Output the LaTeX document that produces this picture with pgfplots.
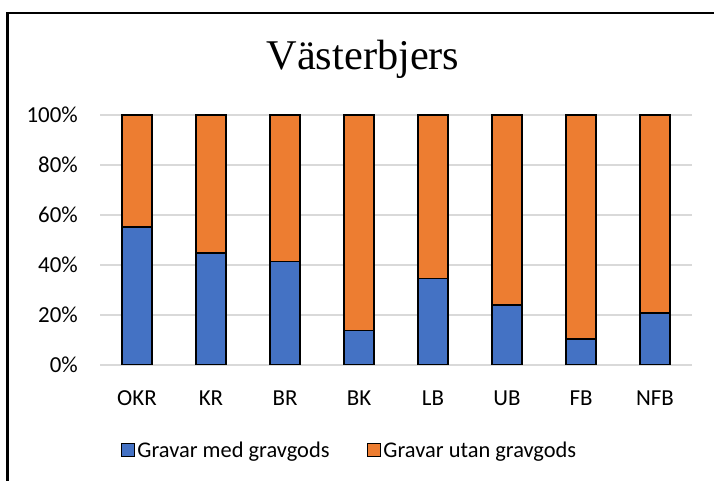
\documentclass[border=0pt]{standalone}
\usepackage{fontspec}
\setmainfont{Carlito}
\newfontfamily\titlefont{Liberation Serif}
\usepackage{pgfplots}
\pgfplotsset{compat=1.18}
\definecolor{cblue}{HTML}{4472C4}
\definecolor{corange}{HTML}{ED7D31}
\definecolor{cgrid}{HTML}{D9D9D9}
\begin{document}
\begin{tikzpicture}[x=1bp,y=1bp]
\path[use as bounding box] (0,0) rectangle (714,481);
\draw[line width=2.2bp] (7.5,0) -- (7.5,468) -- (714,468);
\node[font=\titlefont\fontsize{42.5}{50}\selectfont, anchor=base, inner sep=0pt] at (363,411) {Västerbjers};
\begin{axis}[
 at={(100bp,116bp)}, anchor=south west,
 scale only axis, width=592bp, height=250bp,
 ybar stacked, bar width=30bp,
 xmin=-0.5, xmax=7.5, ymin=0, ymax=100,
 xtick={0,...,7}, xticklabels={OKR,KR,BR,BK,LB,UB,FB,NFB},
 ytick={0,20,...,100},
 yticklabel={\pgfmathprintnumber{\tick}\%},
 /pgf/number format/assume math mode=true,
 tick label style={font=\fontsize{23}{27}\selectfont},
 axis x line*=bottom, axis y line*=left,
 y axis line style={draw=none},
 x axis line style={draw=cgrid, line width=1.5bp},
 major tick length=0pt,
 ymajorgrids, grid style={draw=cgrid, line width=1.5bp},
 yticklabel style={anchor=east, inner sep=0pt, xshift=-22bp},
 xticklabel style={anchor=base, inner sep=0pt, yshift=-41bp},
 legend image code/.code={\draw[#1, draw=black, line width=1bp] (0bp,-6.5bp) rectangle (13bp,6.5bp);},
 legend style={at={(0.422,-0.34)}, anchor=center, draw=none, fill=none,
   legend columns=2, font=\fontsize{22.5}{26}\selectfont,
   /tikz/every even column/.append style={column sep=36bp}},
 legend cell align=left,
]
\addplot[fill=cblue, draw=black, line width=1.5bp] coordinates {(0,55.1) (1,44.8) (2,41.4) (3,13.8) (4,34.5) (5,24.0) (6,10.3) (7,20.7)};
\addplot[fill=corange, draw=black, line width=1.5bp] coordinates {(0,44.9) (1,55.2) (2,58.6) (3,86.2) (4,65.5) (5,76.0) (6,89.7) (7,79.3)};
\legend{Gravar med gravgods, Gravar utan gravgods}
\end{axis}
\end{tikzpicture}
\end{document}
